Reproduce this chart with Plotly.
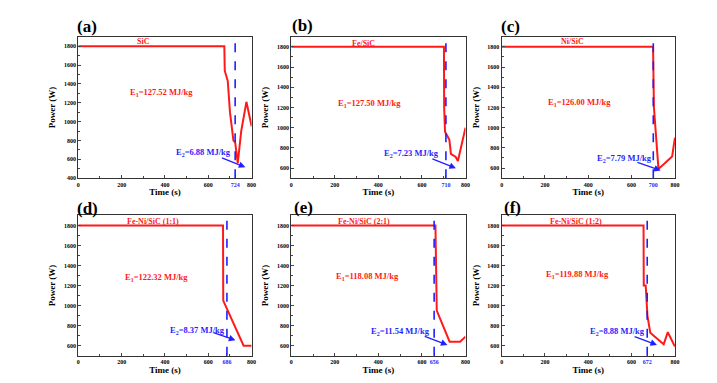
import plotly.graph_objects as go

# ---------------- data ----------------
panel_labels = ["(a)", "(b)", "(c)", "(d)", "(e)", "(f)"]
samples = ["SiC", "Fe/SiC", "Ni/SiC", "Fe-Ni/SiC (1:1)", "Fe-Ni/SiC (2:1)", "Fe-Ni/SiC (1:2)"]

t_a = [0, 674, 676, 690, 700, 706, 716, 724, 736, 752, 776, 800]
p_a = [1800, 1800, 1540, 1430, 1100, 1000, 800, 780, 560, 900, 1210, 950]

t_b = [0, 701, 702, 706, 726, 733, 755, 765, 800]
p_b = [1800, 1800, 1200, 960, 880, 740, 710, 670, 1000]

t_c = [0, 699, 703, 724, 787, 800]
p_c = [1800, 1800, 1200, 590, 715, 900]

t_d = [0, 668, 669, 763, 800]
p_d = [1800, 1800, 1050, 600, 600]

t_e = [0, 662, 668, 727, 775, 800]
p_e = [1800, 1800, 950, 640, 640, 690]

t_f = [0, 655, 656, 665, 673, 686, 748, 767, 798, 800]
p_f = [1800, 1800, 1200, 1200, 900, 730, 615, 735, 600, 600]

t_cut = [724, 710, 700, 686, 656, 672]
e1_vals = ["127.52", "127.50", "126.00", "122.32", "118.08", "119.88"]
e2_vals = ["6.88", "7.23", "7.79", "8.37", "11.54", "8.88"]

y_min = [400, 500, 500, 500, 500, 500]
y_max = 1900
y_ticks_a = [400, 600, 800, 1000, 1200, 1400, 1600, 1800]
y_ticks_rest = [600, 800, 1000, 1200, 1400, 1600, 1800]
x_ticks = [0, 200, 400, 600, 800]

# annotation placements in data units (layout only)
title_pos = [(299, 1853), (330, 1834), (327, 1850), (346, 1840), (336, 1841), (341, 1841)]
e1_pos = [(384, 1305), (359, 1236), (359, 1248), (361, 1284), (352, 1289), (348, 1308)]
e2_pos = [(580, 674), (552, 746), (566, 692), (550, 748), (500, 746), (537, 739)]
arrow_tail = [(656, 621), (641, 697), (620, 662), (617, 735), (606, 700), (607, 697)]
arrow_head = [(771, 516), (756, 599), (734, 576), (725, 655), (717, 608), (717, 608)]

series_t = [t_a, t_b, t_c, t_d, t_e, t_f]
series_p = [p_a, p_b, p_c, p_d, p_e, p_f]

# ---------------- layout geometry ----------------
W, H = 717, 383
col_px = [(69, 244), (284, 460), (496.5, 671.5)]
row_px = [(29, 171.5), (209, 350.5)]
label_px = [(66, 19), (283, 18), (494, 19), (66, 202), (285, 201), (497, 201)]

FONT = "Liberation Serif"
RED = "#ff1a1a"
BLUE = "#1f1fff"

fig = go.Figure()
annotations = []
shapes = []

for i in range(6):
    r, c = divmod(i, 3)
    n = "" if i == 0 else str(i + 1)
    xa, ya = "x" + n, "y" + n
    x0, x1 = col_px[c]
    y0, y1 = row_px[r]

    fig.add_trace(go.Scatter(
        x=series_t[i], y=series_p[i], mode="lines",
        line=dict(color=RED, width=2), xaxis=xa, yaxis=ya,
        showlegend=False, hoverinfo="skip"))

    tv = sorted(x_ticks + [t_cut[i]])
    tt = [f'<span style="color:{BLUE}">{v}</span>' if v == t_cut[i] else str(v) for v in tv]
    yt = y_ticks_a if i == 0 else y_ticks_rest

    fig.layout["xaxis" + n] = dict(
        domain=[x0 / W, x1 / W], anchor=ya, range=[0, 800],
        tickvals=tv, ticktext=tt, ticks="inside", ticklen=3, tickwidth=1, tickangle=0,
        minor=dict(tickvals=[100, 300, 500, 700], ticks="inside", ticklen=2, tickwidth=1),
        showline=True, linecolor="#333", linewidth=1.3, mirror=True,
        showgrid=False, zeroline=False,
        tickfont=dict(family=FONT, size=6, color="black", weight="bold"),
        title=dict(text="<b>Time (s)</b>", font=dict(family=FONT, size=9, color="black"), standoff=2))
    fig.layout["yaxis" + n] = dict(
        domain=[1 - y1 / H, 1 - y0 / H], anchor=xa, range=[y_min[i], y_max],
        tickvals=yt, ticks="inside", ticklen=3, tickwidth=1,
        minor=dict(dtick=100, ticks="inside", ticklen=2, tickwidth=1),
        showline=True, linecolor="#333", linewidth=1.3, mirror=True,
        showgrid=False, zeroline=False,
        tickfont=dict(family=FONT, size=6, color="black", weight="bold"),
        title=dict(text="<b>Power (W)</b>", font=dict(family=FONT, size=9, color="black"), standoff=6))

    shapes.append(dict(type="line", xref=xa, yref=ya + " domain", x0=t_cut[i], x1=t_cut[i],
                       y0=0, y1=1, line=dict(color=BLUE, width=1.6, dash="dash")))

    annotations.append(dict(text="<b>" + panel_labels[i] + "</b>", xref="paper", yref="paper",
                            x=label_px[i][0] / W, y=1 - label_px[i][1] / H, xanchor="left",
                            yanchor="middle", showarrow=False,
                            font=dict(family=FONT, size=17, color="black")))
    annotations.append(dict(text="<b>" + samples[i] + "</b>", xref=xa, yref=ya,
                            x=title_pos[i][0], y=title_pos[i][1], showarrow=False,
                            font=dict(family=FONT, size=8, color=RED)))
    annotations.append(dict(text="<b>E<sub>1</sub>=" + e1_vals[i] + " MJ/kg</b>", xref=xa, yref=ya,
                            x=e1_pos[i][0], y=e1_pos[i][1], showarrow=False,
                            font=dict(family=FONT, size=8.5, color=RED)))
    annotations.append(dict(text="<b>E<sub>2</sub>=" + e2_vals[i] + " MJ/kg</b>", xref=xa, yref=ya,
                            x=e2_pos[i][0], y=e2_pos[i][1], showarrow=False,
                            font=dict(family=FONT, size=8.5, color=BLUE)))
    annotations.append(dict(text="", xref=xa, yref=ya, axref=xa, ayref=ya,
                            x=arrow_head[i][0], y=arrow_head[i][1],
                            ax=arrow_tail[i][0], ay=arrow_tail[i][1],
                            showarrow=True, arrowhead=2, arrowsize=1, arrowwidth=1.3,
                            arrowcolor=BLUE))

fig.update_layout(width=W, height=H, margin=dict(l=0, r=0, t=0, b=0),
                  paper_bgcolor="white", plot_bgcolor="white",
                  annotations=annotations, shapes=shapes,
                  font=dict(family=FONT))

fig.write_html("out.html")
